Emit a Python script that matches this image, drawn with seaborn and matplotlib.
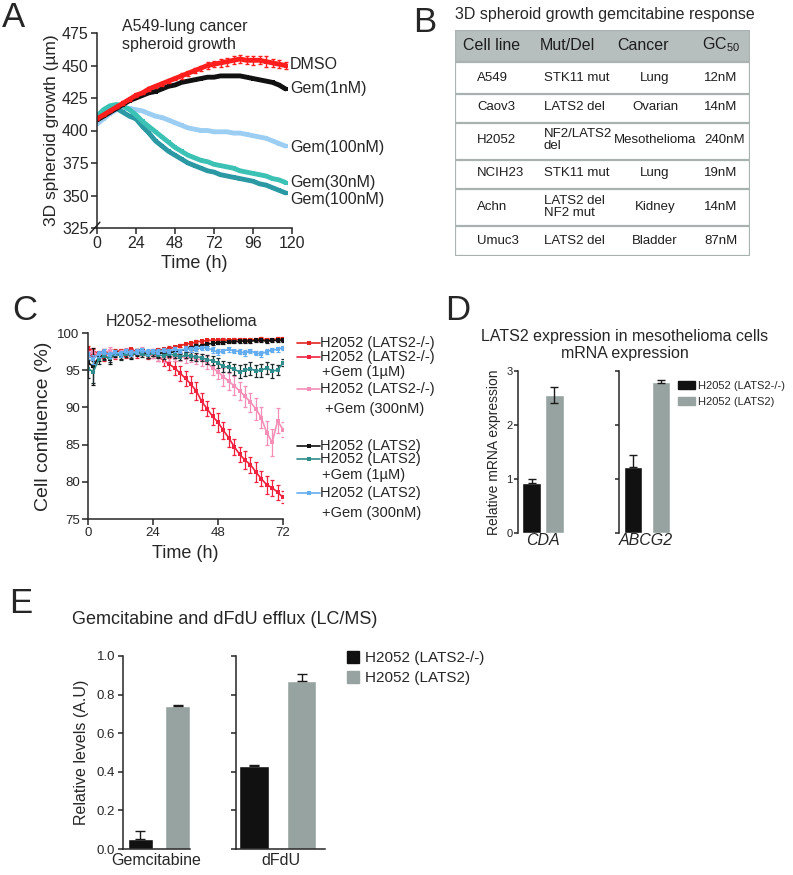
import matplotlib
matplotlib.use('Agg')
import matplotlib.pyplot as plt
import pandas as pd
import seaborn as sns
from matplotlib.lines import Line2D
from matplotlib.patches import Patch, Rectangle

# ---------------- data ----------------
# A: A549 spheroid growth (um) vs time (h)
hours_a = [0, 4, 8, 12, 16, 20, 24, 28, 32, 36, 40, 44, 48, 52, 56, 60, 64, 68, 72, 76,
           80, 84, 88, 92, 96, 100, 104, 108, 112, 116]
dmso = [409, 412, 415, 418, 421, 424, 427, 429, 432, 434, 436, 438, 440, 442, 444, 446, 448, 450, 451, 452,
        453, 454, 455, 454, 454, 454, 453, 452, 451, 450]
dmso_err = [1, 1, 1, 1, 1.5, 1, 1.5, 1, 1.5, 1, 1.5, 1.5, 1.5, 2, 2, 2, 2, 2.5, 2.5, 3,
            3, 3, 3, 3, 3.5, 3, 4, 3, 3, 3]
gem_1nm = [408, 411, 414, 417, 420, 423, 425, 427, 429, 430, 432, 434, 435, 437, 438, 439, 440, 441, 441, 442,
           442, 442, 442, 441, 440, 439, 438, 437, 435, 432]
gem_100nm_a = [405, 409, 413, 416, 417, 417, 416, 415, 413, 411, 410, 408, 406, 404, 402, 401, 400, 400, 399, 399,
               399, 398, 398, 397, 396, 395, 394, 392, 390, 388]
gem_30nm = [411, 416, 419, 420, 419, 416, 412, 407, 403, 399, 395, 391, 387, 384, 381, 379, 377, 376, 374, 373,
            372, 371, 369, 368, 367, 366, 365, 363, 362, 360]
gem_100nm_b = [411, 414, 416, 417, 414, 411, 409, 403, 398, 392, 388, 384, 381, 378, 375, 373, 371, 369, 368, 366,
               365, 364, 363, 362, 361, 359, 358, 356, 354, 352]
labels_a = ['DMSO', 'Gem(1nM)', 'Gem(100nM)', 'Gem(30nM)', 'Gem(100nM)']
label_y_a = [451, 432, 387, 360, 347]

# B: table
tab_header = ['Cell line', 'Mut/Del', 'Cancer', 'GC$_{50}$']
tab_cell = ['A549', 'Caov3', 'H2052', 'NCIH23', 'Achn', 'Umuc3']
tab_mut = ['STK11 mut', 'LATS2 del', 'NF2/LATS2\ndel', 'STK11 mut', 'LATS2 del\nNF2 mut', 'LATS2 del']
tab_cancer = ['Lung', 'Ovarian', 'Mesothelioma', 'Lung', 'Kidney', 'Bladder']
tab_gc50 = ['12nM', '14nM', '240nM', '19nM', '14nM', '87nM']

# C: H2052 confluence (%) vs time (h)
hours_c = [0, 2, 4, 6, 8, 10, 12, 14, 16, 18, 20, 22, 24, 26, 28, 30, 32, 34, 36, 38,
           40, 42, 44, 46, 48, 50, 52, 54, 56, 58, 60, 62, 64, 66, 68, 70, 72]
ko = [98.0, 97.5, 97.3, 97.6, 97.2, 97.5, 97.6, 97.3, 97.8, 97.5, 97.6, 97.4, 97.6, 97.7, 97.8, 97.9, 98.1, 98.3, 98.5, 98.6,
      98.8, 98.9, 99.0, 99.0, 99.0, 99.1, 99.0, 99.1, 99.1, 99.0, 99.1, 99.1, 99.2, 99.1, 99.1, 99.2, 99.2]
ko_err = [0.3, 0.3, 0.2, 0.3, 0.2, 0.3, 0.2, 0.3, 0.2, 0.3, 0.2, 0.3, 0.2, 0.3, 0.2, 0.3, 0.2, 0.2, 0.2, 0.2,
          0.2, 0.2, 0.2, 0.2, 0.2, 0.2, 0.2, 0.2, 0.2, 0.2, 0.2, 0.2, 0.2, 0.2, 0.2, 0.2, 0.2]
ko_gem1 = [97.5, 97.0, 97.2, 96.8, 97.4, 97.0, 97.3, 97.1, 97.5, 97.2, 97.4, 97.0, 97.2, 96.8, 96.3, 95.8, 95.3, 94.6, 93.9, 93.1,
           92.2, 90.8, 89.8, 88.8, 88.0, 86.9, 85.9, 84.7, 83.7, 82.9, 82.3, 81.3, 80.4, 79.6, 79.2, 78.6, 77.9]
ko_gem1_err = [0.5, 0.6, 0.4, 0.5, 0.4, 0.5, 0.4, 0.5, 0.4, 0.5, 0.4, 0.5, 0.5, 0.6, 0.7, 0.8, 0.9, 1.0, 1.0, 1.1,
               1.2, 1.2, 1.0, 1.1, 1.3, 1.2, 1.2, 1.1, 1.0, 1.2, 1.1, 1.3, 1.0, 1.2, 1.1, 1.0, 0.8]
ko_gem300 = [97.2, 97.5, 96.9, 97.4, 97.6, 97.0, 97.3, 97.5, 97.2, 97.4, 97.6, 97.2, 97.0, 96.8, 96.6, 96.9, 96.7, 96.9, 96.6, 96.8,
             96.5, 96.4, 96.0, 95.3, 94.8, 94.1, 93.5, 92.9, 92.2, 91.5, 90.7, 89.8, 88.6, 86.6, 85.3, 88.2, 87.0]
ko_gem300_err = [0.4, 0.5, 0.4, 0.4, 0.5, 0.4, 0.4, 0.5, 0.4, 0.4, 0.5, 0.4, 0.4, 0.5, 0.5, 0.6, 0.5, 0.6, 0.6, 0.7,
                 0.7, 0.8, 0.9, 1.0, 1.0, 1.2, 1.1, 1.3, 1.2, 1.4, 1.3, 1.5, 1.4, 1.6, 1.8, 1.7, 1.0]
wt = [96.0, 95.5, 96.8, 97.0, 96.5, 97.2, 97.0, 97.4, 97.0, 97.3, 97.5, 97.1, 97.3, 97.2, 97.4, 97.3, 97.5, 97.6, 97.8, 98.0,
      98.2, 98.3, 98.5, 98.6, 98.7, 98.7, 98.8, 98.8, 98.9, 98.9, 98.9, 99.0, 99.0, 98.9, 99.0, 99.0, 99.0]
wt_err = [1.0, 2.5, 0.6, 0.5, 0.6, 0.4, 0.5, 0.4, 0.5, 0.4, 0.4, 0.5, 0.4, 0.4, 0.3, 0.4, 0.3, 0.3, 0.3, 0.3,
          0.3, 0.2, 0.2, 0.2, 0.2, 0.2, 0.2, 0.2, 0.2, 0.2, 0.2, 0.2, 0.2, 0.2, 0.2, 0.2, 0.2]
wt_gem1 = [95.2, 94.8, 96.5, 96.9, 96.6, 97.3, 96.9, 97.2, 97.0, 97.4, 97.2, 97.0, 97.3, 97.1, 96.9, 97.2, 97.0, 96.8, 97.0, 96.9,
           96.8, 96.7, 96.4, 96.3, 96.0, 95.5, 95.4, 95.1, 94.8, 95.0, 95.2, 94.9, 95.0, 95.3, 94.9, 95.0, 96.0]
wt_gem1_err = [1.2, 1.5, 0.6, 0.5, 0.5, 0.4, 0.5, 0.4, 0.4, 0.4, 0.4, 0.4, 0.4, 0.4, 0.4, 0.4, 0.4, 0.4, 0.4, 0.5,
               0.5, 0.5, 0.6, 0.6, 0.7, 0.8, 0.7, 0.8, 0.9, 0.8, 0.9, 0.8, 0.9, 0.8, 0.9, 0.7, 0.5]
wt_gem300 = [97.0, 96.5, 97.2, 97.5, 97.0, 97.4, 97.2, 97.6, 97.3, 97.5, 97.7, 97.4, 97.6, 97.5, 97.7, 97.6, 97.8, 97.6, 97.9, 97.8,
             97.9, 98.0, 98.0, 97.7, 97.4, 97.6, 97.8, 97.6, 97.5, 97.3, 97.6, 97.3, 97.2, 97.5, 97.7, 97.8, 98.0]
wt_gem300_err = [0.5, 0.6, 0.4, 0.3, 0.4, 0.3, 0.4, 0.3, 0.4, 0.3, 0.3, 0.4, 0.3, 0.3, 0.3, 0.3, 0.3, 0.3, 0.3, 0.3,
                 0.3, 0.3, 0.3, 0.4, 0.4, 0.3, 0.3, 0.3, 0.3, 0.4, 0.3, 0.3, 0.4, 0.3, 0.3, 0.3, 0.3]

# D: relative mRNA expression
genes = ['CDA', 'ABCG2']
mrna_ko = [0.92, 1.22]
mrna_ko_err = [0.08, 0.23]
mrna_wt = [2.55, 2.80]
mrna_wt_err = [0.15, 0.03]

# E: LC/MS efflux
metabolites = ['Gemcitabine', 'dFdU']
efflux_ko = [0.05, 0.43]
efflux_ko_err = [0.045, 0.005]
efflux_wt = [0.74, 0.87]
efflux_wt_err = [0.008, 0.035]

groups = ['H2052 (LATS2-/-)', 'H2052 (LATS2)']

# ---------------- style ----------------
sns.set_theme(style='ticks')
plt.rcParams['font.family'] = ['Liberation Sans', 'DejaVu Sans']
plt.rcParams['mathtext.default'] = 'regular'
plt.rcParams['axes.linewidth'] = 1.1
plt.rcParams['xtick.major.width'] = 1.1
plt.rcParams['ytick.major.width'] = 1.1

W, H = 793, 875
fig = plt.figure(figsize=(W / 100, H / 100), dpi=100)


def px_axes(l, t, r, b):
    return fig.add_axes([l / W, 1 - b / H, (r - l) / W, (b - t) / H])


def fig_text(x, y, s, **kw):
    return fig.text(x / W, 1 - y / H, s, **kw)


BLACK = '#111111'
GRAY = '#97a3a0'

# ---------------- panel A ----------------
ax = px_axes(97, 33, 292, 228)
a_series = [(gem_100nm_a, None, '#9ccef4'),
            (gem_100nm_b, None, '#2a99a3'),
            (gem_30nm, None, '#3cc1b5'),
            (gem_1nm, None, BLACK),
            (dmso, dmso_err, '#ff1e1e')]
for vals, err, col in a_series:
    if err is not None:
        ax.errorbar(hours_a, vals, yerr=err, fmt='none', ecolor=col, elinewidth=1, capsize=1.5)
    sns.lineplot(x=hours_a, y=vals, color=col, lw=3.5, marker='s', ms=3, mec=col, mew=0, ax=ax)
for lab, yv in zip(labels_a, label_y_a):
    ax.text(118.8, yv, lab, fontsize=11.5, va='center', ha='left', clip_on=False)
ax.set_xlim(0, 120)
ax.set_ylim(325, 475)
ax.set_xticks([0, 24, 48, 72, 96, 120])
ax.set_yticks([325, 350, 375, 400, 425, 450, 475])
ax.tick_params(direction='out', length=4, labelsize=11.5, pad=2)
ax.set_xlabel('Time (h)', fontsize=13, labelpad=3)
ax.set_ylabel('3D spheroid growth (µm)', fontsize=12.5, labelpad=2)
sns.despine(ax=ax)
ax.plot([-4.3, 1.8], [321, 329.5], color='k', lw=1, clip_on=False)
fig_text(122, 35, 'A549-lung cancer\nspheroid growth', fontsize=11.5, va='center', linespacing=1.25)

# ---------------- panel B (table) ----------------
axb = px_axes(455, 30, 750, 256)
axb.set_xlim(0, 295)
axb.set_ylim(226, 0)
axb.axis('off')
axb.add_patch(Rectangle((0, 0), 295, 32, color='#b6bfbe', lw=0))
line_c = '#a9b2b1'
for yb in [32, 64, 93, 130, 159, 196]:
    axb.plot([0, 295], [yb, yb], color=line_c, lw=1.6)
axb.add_patch(Rectangle((0, 0), 295, 226, fill=False, ec=line_c, lw=1.6))
for xh, txt in zip([8, 85, 162, 247], tab_header):
    axb.text(xh, 15, txt, fontsize=11.5, va='center', ha='left', color='#1e1e1e')
row_y = [48, 77, 110, 143, 177, 211]
for yr, c1, c2, c3, c4 in zip(row_y, tab_cell, tab_mut, tab_cancer, tab_gc50):
    axb.text(22, yr, c1, fontsize=9.5, va='center', ha='left', color='#1e1e1e')
    axb.text(89, yr, c2, fontsize=9.5, va='center', ha='left', color='#1e1e1e', linespacing=1.1)
    axb.text(200, yr, c3, fontsize=9.5, va='center', ha='center', color='#1e1e1e')
    axb.text(249, yr, c4, fontsize=9.5, va='center', ha='left', color='#1e1e1e')
fig_text(455, 15, '3D spheroid growth gemcitabine response', fontsize=11.5, va='center')

# ---------------- panel C ----------------
axc = px_axes(88, 333, 283, 519)
c_series = [(ko, ko_err, '#e42420', '#e42420'),
            (ko_gem1, ko_gem1_err, '#f0223f', '#f0223f'),
            (ko_gem300, ko_gem300_err, '#f58fb7', '#f58fb7'),
            (wt, wt_err, BLACK, BLACK),
            (wt_gem1, wt_gem1_err, '#2f8d8d', '#1c2b2b'),
            (wt_gem300, wt_gem300_err, '#63adf0', '#63adf0')]
for vals, err, col, ecol in c_series:
    axc.errorbar(hours_c, vals, yerr=err, fmt='none', ecolor=ecol, elinewidth=0.9, capsize=1.5, capthick=0.9)
    sns.lineplot(x=hours_c, y=vals, color=col, lw=1.2, marker='s', ms=2.5, mec=col, mew=0, ax=axc)
axc.set_xlim(0, 72)
axc.set_ylim(75, 100)
axc.set_xticks([0, 24, 48, 72])
axc.set_yticks([75, 80, 85, 90, 95, 100])
axc.tick_params(direction='out', length=4, labelsize=9.5, pad=2)
axc.set_xlabel('Time (h)', fontsize=13, labelpad=4)
axc.set_ylabel('Cell confluence (%)', fontsize=14, labelpad=4)
sns.despine(ax=axc)
fig_text(182, 322, 'H2052-mesothelioma', fontsize=11.5, va='center', ha='center')

# legend for C
handle_y = [343, 357, 389, 446, 459, 493]
for yh, (vals, err, col, ecol) in zip(handle_y, c_series):
    fig.add_artist(Line2D([297 / W, 320 / W], [1 - yh / H, 1 - yh / H], color=col, lw=1.2))
    fig.add_artist(Line2D([308.5 / W], [1 - yh / H], color=col, marker='s', ms=2.5, mew=0))
leg_lines = [(343, 'H2052 (LATS2-/-)', 320), (357, 'H2052 (LATS2-/-)', 320), (372, '+Gem (1µM)', 322),
             (389, 'H2052 (LATS2-/-)', 320), (409, '+Gem (300nM)', 325),
             (446, 'H2052 (LATS2)', 320), (459, 'H2052 (LATS2)', 320), (475, '+Gem (1µM)', 322),
             (493, 'H2052 (LATS2)', 320), (513, '+Gem (300nM)', 322)]
for yl, txt, xl in leg_lines:
    fig_text(xl, yl, txt, fontsize=10.5, va='center', ha='left')

# ---------------- panel D ----------------
d_axes = [px_axes(518, 371, 568, 533), px_axes(619, 371, 672, 533)]
d_xlim = [(-0.61, 1.61), (-0.5, 1.39)]
d_width = [0.85, 0.65]
for i, axd in enumerate(d_axes):
    dfd = pd.DataFrame({'group': groups, 'value': [mrna_ko[i], mrna_wt[i]]})
    sns.barplot(data=dfd, x='group', y='value', hue='group', palette=[BLACK, GRAY], saturation=1,
                width=d_width[i], errorbar=None, legend=False, ax=axd)
    axd.errorbar([0], [mrna_ko[i]], yerr=[[0], [mrna_ko_err[i]]], fmt='none', ecolor='k', elinewidth=1, capsize=3)
    axd.errorbar([1], [mrna_wt[i]], yerr=[[mrna_wt_err[i]], [mrna_wt_err[i]]], fmt='none', ecolor='k',
                 elinewidth=1, capsize=3)
    axd.set_xlim(*d_xlim[i])
    axd.set_ylim(0, 3)
    axd.set_yticks([0, 1, 2, 3])
    axd.set_xticks([])
    axd.tick_params(axis='y', direction='out', length=3, labelsize=8, pad=1)
    axd.set_ylabel('')
    axd.set_xlabel(genes[i], fontsize=11.5, style='italic', labelpad=0)
    sns.despine(ax=axd, bottom=True)
d_axes[1].set_yticklabels([])
d_axes[0].set_ylabel('Relative mRNA expression', fontsize=10, labelpad=4)
fig_text(625, 345, 'LATS2 expression in mesothelioma cells\nmRNA expression', fontsize=11.5,
         ha='center', va='center', linespacing=1.2)
fig.legend(handles=[Patch(color=BLACK, label=groups[0]), Patch(color=GRAY, label=groups[1])],
           loc='upper left', bbox_to_anchor=(678 / W, 1 - 381 / H), frameon=False, fontsize=8,
           handlelength=1.5, handleheight=0.7, handletextpad=0.3, labelspacing=0.55,
           borderpad=0, borderaxespad=0)

# ---------------- panel E ----------------
e_axes = [px_axes(123, 656, 190, 849), px_axes(236, 656, 325, 849)]
e_xlim = [(-0.47, 1.33), (-0.38, 1.49)]
e_width = [0.67, 0.62]
for i, axe in enumerate(e_axes):
    dfe = pd.DataFrame({'group': groups, 'value': [efflux_ko[i], efflux_wt[i]]})
    sns.barplot(data=dfe, x='group', y='value', hue='group', palette=[BLACK, GRAY], saturation=1,
                width=e_width[i], errorbar=None, legend=False, ax=axe)
    axe.errorbar([0, 1], [efflux_ko[i], efflux_wt[i]], yerr=[[0, 0], [efflux_ko_err[i], efflux_wt_err[i]]],
                 fmt='none', ecolor='k', elinewidth=1, capsize=3.5)
    axe.set_xlim(*e_xlim[i])
    axe.set_ylim(0, 1)
    axe.set_yticks([0, 0.2, 0.4, 0.6, 0.8, 1.0])
    axe.set_yticklabels(['0.0', '0.2', '0.4', '0.6', '0.8', '1.0'])
    axe.set_xticks([])
    axe.tick_params(axis='y', direction='out', length=3.5, labelsize=9.5, pad=2)
    axe.set_ylabel('')
    axe.set_xlabel(metabolites[i], fontsize=11.5, labelpad=3)
    sns.despine(ax=axe)
e_axes[1].set_yticklabels([])
e_axes[0].set_ylabel('Relative levels (A.U)', fontsize=11.5, labelpad=6)
fig_text(72, 620, 'Gemcitabine and dFdU efflux (LC/MS)', fontsize=13, va='center')
fig.legend(handles=[Patch(color=BLACK, label=groups[0]), Patch(color=GRAY, label=groups[1])],
           loc='upper left', bbox_to_anchor=(347 / W, 1 - 651 / H), frameon=False, fontsize=11,
           handlelength=0.8, handleheight=0.8, handletextpad=0.35, labelspacing=0.4,
           borderpad=0, borderaxespad=0)

# ---------------- panel letters ----------------
for x, y, s in [(2, 27, 'A'), (413, 32, 'B'), (12, 320, 'C'), (445, 320, 'D'), (9, 613, 'E')]:
    fig_text(x, y, s, fontsize=25, va='baseline', ha='left')

fig.savefig('out.png', dpi=100)
